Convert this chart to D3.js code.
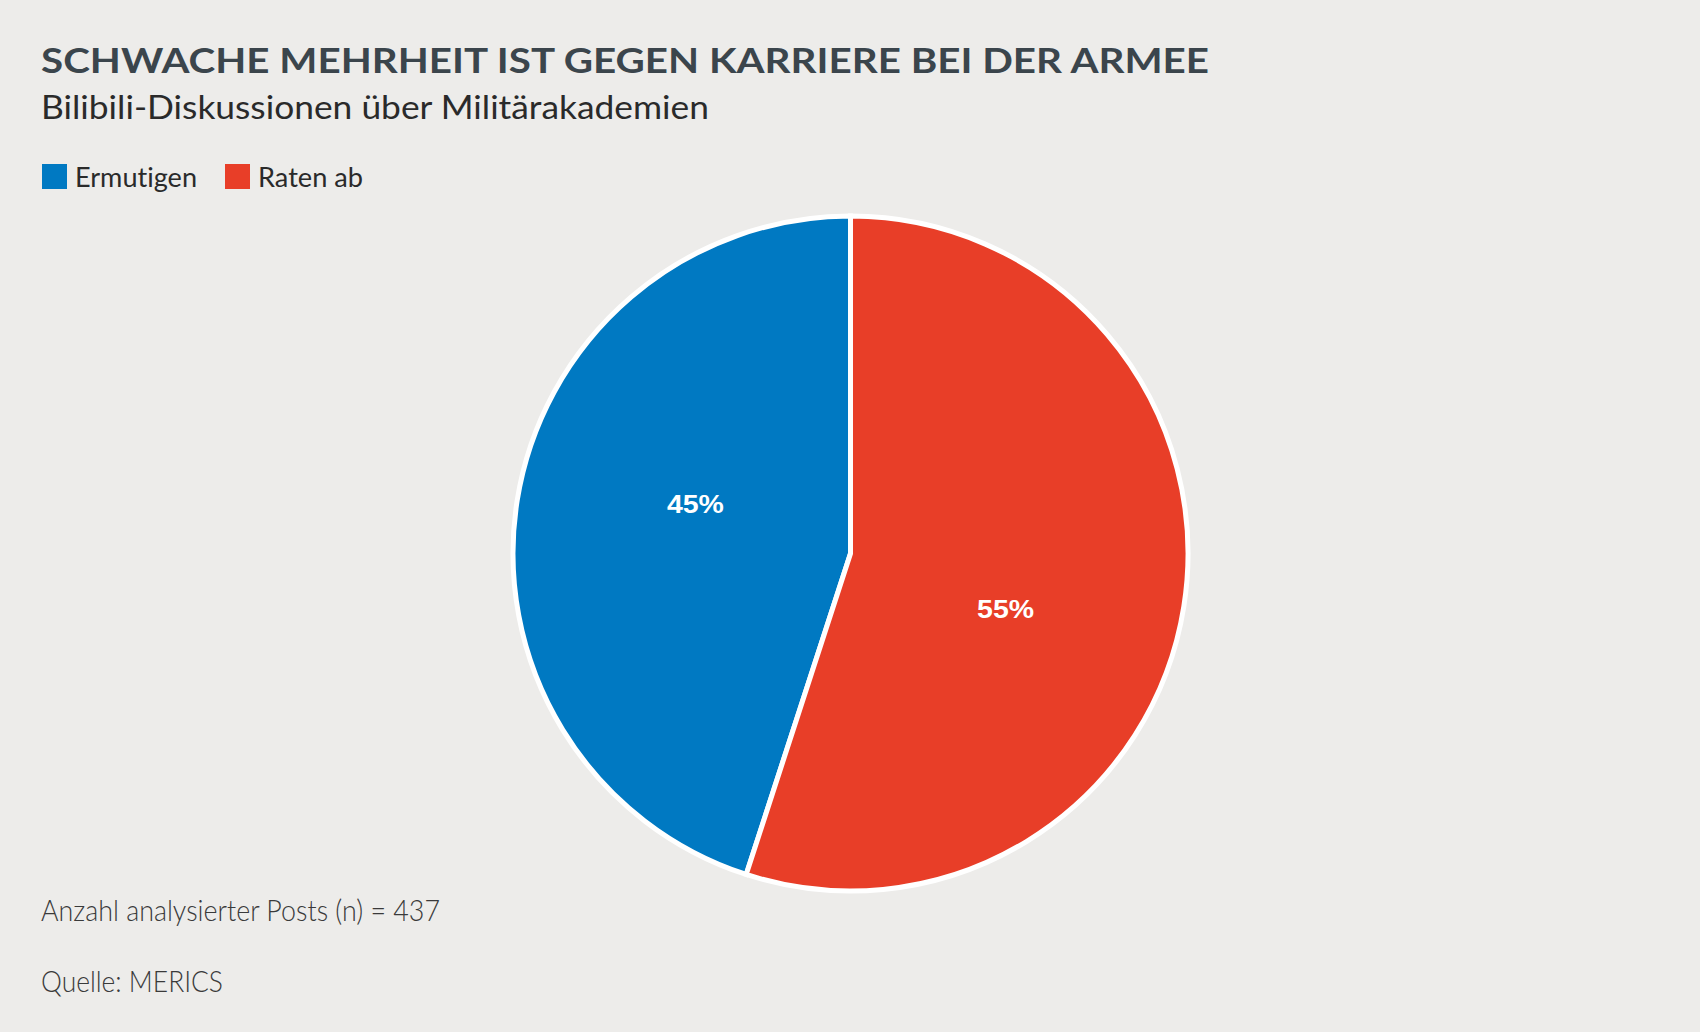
<!DOCTYPE html>
<html>
<head>
<meta charset="utf-8">
<script src="https://cdn.jsdelivr.net/npm/d3@7"></script>
<style>
  html, body { margin: 0; padding: 0; background: #edecea; }
  svg { display: block; }
  text { font-variant-ligatures: none; font-feature-settings: "liga" 0; }
</style>
</head>
<body>
<svg id="chart" width="1700" height="1032"></svg>
<script>
// ---- data ----
const categories = ["Ermutigen", "Raten ab"];
const values = [45, 55];
const valueLabels = ["45%", "55%"];
const colors = ["#0079c2", "#e83e28"];
const titleText = "SCHWACHE MEHRHEIT IST GEGEN KARRIERE BEI DER ARMEE";
const subtitleText = "Bilibili-Diskussionen über Militärakademien";
const noteText = "Anzahl analysierter Posts (n) = 437";
const sourceText = "Quelle: MERICS";

const svg = d3.select("#chart");
svg.append("rect").attr("width", 1700).attr("height", 1032).attr("fill", "#edecea");

// ---- titles ----
svg.append("text").attr("x", 41).attr("y", 73)
  .attr("font-family", "Lato").attr("font-weight", 700).attr("font-size", 34)
  .attr("fill", "#3b454c")
  .attr("textLength", 1168).attr("lengthAdjust", "spacingAndGlyphs")
  .text(titleText);

svg.append("text").attr("x", 41).attr("y", 119)
  .attr("font-family", "Lato").attr("font-weight", 400).attr("font-size", 33)
  .attr("fill", "#2a2a2a")
  .attr("textLength", 668).attr("lengthAdjust", "spacingAndGlyphs")
  .text(subtitleText);

// ---- legend ----
const legendX = [42, 225];
const legendTextW = [122, 105];
const lg = svg.append("g");
categories.forEach((c, i) => {
  lg.append("rect").attr("x", legendX[i]).attr("y", 164).attr("width", 25).attr("height", 25)
    .attr("fill", colors[i]);
  lg.append("text").attr("x", legendX[i] + 33).attr("y", 187)
    .attr("font-family", "Lato").attr("font-size", 26).attr("fill", "#2a2a2a")
    .attr("textLength", legendTextW[i]).attr("lengthAdjust", "spacingAndGlyphs")
    .text(c);
});

// ---- pie ----
const cx = 850.5, cy = 553.5, R = 337.5;
const start = -values[0] / d3.sum(values) * 2 * Math.PI;
const pie = d3.pie().sort(null).value(d => d).startAngle(start).endAngle(start + 2 * Math.PI);
const arcs = pie(values);
const arc = d3.arc().innerRadius(0).outerRadius(R);

const g = svg.append("g").attr("transform", `translate(${cx},${cy})`);
g.selectAll("path.slice").data(arcs).join("path")
  .attr("class", "slice")
  .attr("d", arc)
  .attr("fill", (d, i) => colors[i])
  .attr("stroke", "#ffffff")
  .attr("stroke-width", 5)
  .attr("stroke-linejoin", "miter");

// labels
const labelRx = 157, labelRy = 338;
g.selectAll("text.lbl").data(arcs).join("text")
  .attr("class", "lbl")
  .attr("x", d => labelRx * Math.sin((d.startAngle + d.endAngle) / 2))
  .attr("y", d => -labelRy * Math.cos((d.startAngle + d.endAngle) / 2) + 12)
  .attr("text-anchor", "middle")
  .attr("font-family", "Liberation Sans, Arial, sans-serif")
  .attr("font-weight", 700).attr("font-size", 26)
  .attr("fill", "#ffffff")
  .attr("textLength", 57).attr("lengthAdjust", "spacingAndGlyphs")
  .text((d, i) => valueLabels[i]);

// ---- footer ----
svg.append("text").attr("x", 41).attr("y", 921)
  .attr("font-family", "Lato").attr("font-weight", 300).attr("font-size", 29)
  .attr("fill", "#3a3a3a")
  .attr("textLength", 399).attr("lengthAdjust", "spacingAndGlyphs")
  .text(noteText);

svg.append("text").attr("x", 41).attr("y", 992)
  .attr("font-family", "Lato").attr("font-weight", 300).attr("font-size", 29)
  .attr("fill", "#3a3a3a")
  .attr("textLength", 182).attr("lengthAdjust", "spacingAndGlyphs")
  .text(sourceText);
</script>
</body>
</html>
